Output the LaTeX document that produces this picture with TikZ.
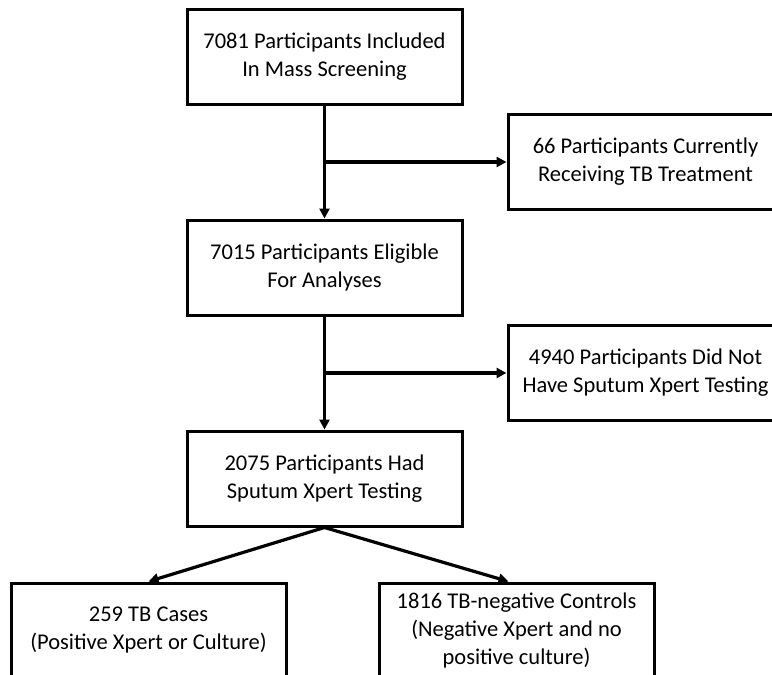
\documentclass[tikz,border=0pt]{standalone}
\usepackage{fontspec}
\setmainfont{Carlito}
\usetikzlibrary{positioning, arrows.meta}
\tikzset{
	>={Triangle[length=10pt, width=10pt]},
	node distance=113pt,
	every node/.style={font=\fontsize{22.5pt}{28pt}\selectfont},
	box/.style={draw, line width=3pt, minimum width=275pt, minimum height=95pt, align=center},
	flow/.style={->, line width=3.2pt},
}

\begin{document}
\begin{tikzpicture}
		\path[use as bounding box] (0,0) rectangle (772pt,-675pt);
		\clip (0,0) rectangle (772pt,-675pt);
		\node[box] (incl) at (324.5pt,-56.5pt) {7081 Participants Included\\In Mass Screening};
		\node[box, below=of incl] (elig) {7015 Participants Eligible\\For Analyses};
		\node[box, below=of elig] (xpert) {2075 Participants Had\\Sputum Xpert Testing};
		\coordinate[below=56.5pt of incl] (j1);
		\coordinate[below=56.5pt of elig] (j2);
		\node[box, right=182pt of j1] (treat) {66 Participants Currently\\Receiving TB Treatment};
		\node[box, right=182pt of j2] (noxpert) {4940 Participants Did Not\\Have Sputum Xpert Testing};
		\node[box, below=54pt of xpert, xshift=-176pt] (cases) {259 TB Cases\\(Positive Xpert or Culture)};
		\node[box, below=54pt of xpert, xshift=192pt] (ctrl) {1816 TB-negative Controls\\(Negative Xpert and no\\positive culture)};
		\draw[flow] (incl) -- (elig);
		\draw[flow] (j1) -- (treat);
		\draw[flow] (elig) -- (xpert);
		\draw[flow] (j2) -- (noxpert);
		\draw[flow] (xpert.south) -- (cases.north);
		\draw[flow] (xpert.south) -- ([xshift=-8pt]ctrl.north);
	\end{tikzpicture}
\end{document}
